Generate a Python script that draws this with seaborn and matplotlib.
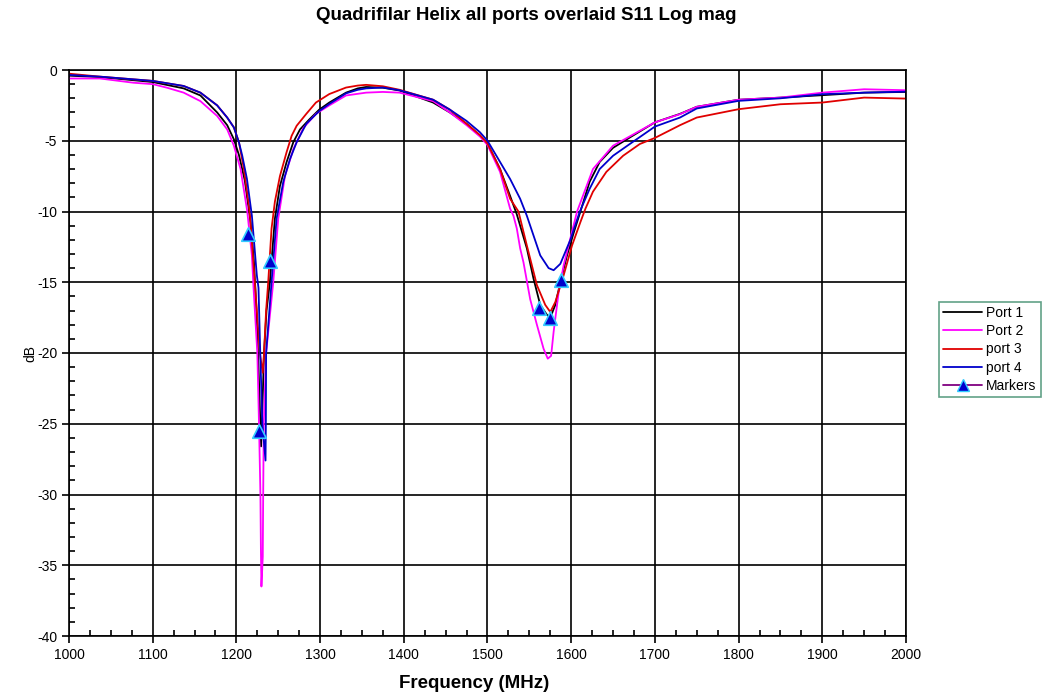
import numpy as np
import pandas as pd
import matplotlib
matplotlib.use("Agg")
import matplotlib.pyplot as plt
import seaborn as sns
from matplotlib.lines import Line2D
from matplotlib.ticker import MultipleLocator

sns.set_theme(style="white")
plt.rcParams['font.family'] = ['Liberation Sans', 'DejaVu Sans']
plt.rcParams['text.color'] = 'black'
plt.rcParams['axes.labelcolor'] = 'black'
plt.rcParams['xtick.color'] = 'black'
plt.rcParams['ytick.color'] = 'black'

# ---------------- data ----------------
port1_freq = [1000, 1037, 1100, 1137, 1157, 1177, 1189, 1197, 1203, 1210, 1214, 1217, 1221, 1224, 1227, 1229.5,
              1231, 1233, 1236, 1240, 1246, 1252, 1260, 1268, 1276, 1287, 1299, 1311, 1331, 1345, 1355, 1375,
              1395, 1435, 1455, 1475, 1491, 1500, 1515, 1527, 1535, 1547, 1555, 1563, 1571, 1575, 1581, 1587,
              1595, 1603, 1611, 1622, 1634, 1650, 1670, 1700, 1730, 1750, 1800, 1850, 1900, 1950, 2000]
port1_db = [-0.4, -0.5, -0.85, -1.3, -1.8, -3.0, -3.9, -4.9, -6.0, -7.8, -9.5, -10.8, -13.6, -17, -22, -26.6,
            -24, -20, -17, -15, -10.5, -8.2, -6.5, -5.1, -4.2, -3.5, -2.8, -2.3, -1.6, -1.3, -1.2, -1.25,
            -1.45, -2.3, -3.0, -3.8, -4.65, -5.2, -7.0, -8.9, -10.2, -12.6, -14.75, -16.6, -17.3, -17.5, -16.6, -15.0,
            -13.1, -11.5, -10.0, -7.9, -6.5, -5.5, -4.77, -3.7, -3.1, -2.6, -2.1, -1.95, -1.78, -1.6, -1.55]

port2_freq = [1000, 1037, 1077, 1100, 1117, 1137, 1157, 1177, 1189, 1197, 1205, 1213, 1218.5, 1220.5, 1225,
              1227, 1228.7, 1229.3, 1229.9, 1231.5, 1232, 1232.7, 1235.5, 1244, 1250, 1258, 1268, 1280, 1295,
              1311, 1331, 1355, 1375, 1395, 1435, 1455, 1475, 1491, 1500, 1515, 1527, 1531, 1535, 1539, 1543,
              1551, 1559, 1567, 1572, 1576, 1579, 1585, 1591, 1599, 1607, 1626, 1650, 1700, 1730, 1750, 1800,
              1850, 1900, 1950, 2000]
port2_db = [-0.6, -0.6, -0.9, -1.0, -1.25, -1.6, -2.2, -3.25, -4.2, -5.35, -7.0, -10.0, -13.1, -15.4, -20,
            -25, -30, -34, -36.5, -34.4, -30, -25, -20, -15, -10.5, -7.5, -5.6, -4.1, -3.1,
            -2.5, -1.8, -1.6, -1.55, -1.6, -2.2, -3.0, -3.9, -4.7, -5.3, -7.2, -9.8, -10.3, -11.2, -12.6, -13.6,
            -16.2, -18.0, -19.7, -20.4, -20.2, -18.5, -15.7, -13.8, -11.9, -10.0, -7.0, -5.35, -3.7, -3.12, -2.6, -2.1,
            -1.95, -1.6, -1.36, -1.43]

port3_freq = [1000, 1037, 1100, 1137, 1157, 1177, 1189, 1197, 1203, 1209, 1215, 1216.5, 1222, 1228, 1231.4,
              1233, 1235.5, 1238, 1242, 1246, 1252, 1260, 1266, 1272, 1283.5, 1295, 1311, 1331, 1345, 1355,
              1375, 1395, 1435, 1455, 1475, 1491, 1500, 1515, 1527, 1537, 1547, 1559, 1569, 1575, 1581, 1591,
              1601, 1611, 1617, 1626, 1642, 1662, 1682, 1700, 1730, 1750, 1800, 1850, 1900, 1950, 2000]
port3_db = [-0.26, -0.47, -0.77, -1.13, -1.6, -2.5, -3.36, -4.06, -5.1, -7.0, -9.6, -10.5, -15, -20, -21.4,
            -20, -17, -15, -11.2, -9.3, -7.5, -5.8, -4.65, -3.94, -3.1, -2.3, -1.7, -1.24, -1.1, -1.05,
            -1.15, -1.4, -2.1, -2.8, -3.8, -4.6, -5.2, -7.0, -9.1, -10.0, -12.4, -15.2, -16.6, -17.1, -16.4, -14.5,
            -12.4, -10.75, -9.8, -8.6, -7.2, -6.06, -5.23, -4.8, -3.9, -3.36, -2.77, -2.42, -2.3, -1.95, -2.02]

port4_freq = [1000, 1037, 1100, 1137, 1157, 1177, 1189, 1197, 1203, 1207, 1212.6, 1218.5, 1224.4, 1226.4, 1228.5,
              1231, 1234.8, 1235.2, 1235.5, 1242, 1248, 1256, 1264, 1272, 1283.5, 1299, 1311, 1331, 1345, 1355,
              1375, 1395, 1435, 1455, 1475, 1491, 1500, 1515, 1527, 1539, 1547, 1555, 1563, 1573, 1579, 1587,
              1599, 1610, 1622, 1634, 1650, 1670, 1700, 1730, 1750, 1800, 1850, 1900, 1950, 2000]
port4_db = [-0.35, -0.47, -0.77, -1.13, -1.6, -2.5, -3.36, -4.06, -5.1, -6.06, -7.7, -10.3, -14.5, -15.4, -20,
            -25, -27.6, -25, -20, -15, -10.5, -7.9, -6.3, -5.1, -3.8, -2.9, -2.4, -1.65, -1.4, -1.3,
            -1.24, -1.43, -2.1, -2.8, -3.6, -4.4, -5.0, -6.5, -7.7, -9.1, -10.3, -11.7, -13.1, -14.0, -14.15, -13.7,
            -12.0, -10.05, -8.4, -7.0, -6.06, -5.23, -4.0, -3.36, -2.72, -2.18, -2.0, -1.71, -1.6, -1.53]

marker_freq = [1214, 1227.4, 1240.5, 1562, 1574.7, 1588]
marker_db = [-11.6, -25.5, -13.5, -16.8, -17.55, -14.85]

port_names = ["Port 1", "Port 2", "port 3", "port 4"]
port_colors = ["#000000", "#ff00ff", "#e00000", "#0000cc"]

# ---------------- build long table ----------------
frames = []
for name, f, d in zip(port_names,
                      [port1_freq, port2_freq, port3_freq, port4_freq],
                      [port1_db, port2_db, port3_db, port4_db]):
    frames.append(pd.DataFrame({"freq": f, "dB": d, "port": name}))
df = pd.concat(frames, ignore_index=True)
mk = pd.DataFrame({"freq": marker_freq, "dB": marker_db})

fig = plt.figure(figsize=(10.47, 6.96), dpi=100)
ax = fig.add_axes([69 / 1047, 1 - 636 / 696, (906 - 69) / 1047, (636 - 70) / 696])

sns.lineplot(data=df, x="freq", y="dB", hue="port", palette=dict(zip(port_names, port_colors)),
             estimator=None, sort=False, units="port", legend=False, linewidth=1.3, ax=ax)
sns.scatterplot(data=mk, x="freq", y="dB", marker="^", s=95, color="#0000cc",
                edgecolor="#33ccff", linewidth=1.2, ax=ax, zorder=5, legend=False)

ax.set_xlim(1000, 2000)
ax.set_ylim(-40, 0)
ax.xaxis.set_major_locator(MultipleLocator(100))
ax.xaxis.set_minor_locator(MultipleLocator(25))
ax.yaxis.set_major_locator(MultipleLocator(5))
ax.yaxis.set_minor_locator(MultipleLocator(1))
ax.grid(True, which="major", color="black", linewidth=1.2)
ax.set_axisbelow(True)
for s in ax.spines.values():
    s.set_color("black")
    s.set_linewidth(1.2)
ax.tick_params(axis="both", which="major", direction="out", length=5, width=1.2, colors="black",
               labelsize=10, bottom=True, left=True)
ax.tick_params(axis="both", which="minor", direction="in", length=4, width=1.2, colors="black",
               bottom=True, left=True)
ax.set_xticks(range(1000, 2001, 100))
ax.set_yticks(range(-40, 1, 5))
ax.set_yticklabels([str(v) for v in range(-40, 1, 5)])

ax.set_xlabel("")
ax.set_ylabel("")
fig.text(30 / 1047, 1 - 353 / 696, "dB", ha="center", va="center", rotation=90, fontsize=10)
fig.text(474 / 1047, 1 - 683 / 696, "Frequency (MHz)", ha="center", va="center",
         fontsize=13.5, fontweight="bold")

fig.text(526 / 1047, 1 - 16 / 696, "Quadrifilar Helix all ports overlaid S11 Log mag",
         ha="center", va="center", fontsize=13.5, fontweight="bold")

handles = [Line2D([0], [0], color=c, lw=1.3) for c in port_colors]
handles.append(Line2D([0], [0], color="#800080", lw=1.3, marker="^", markersize=9,
                      markerfacecolor="#0000cc", markeredgecolor="#33ccff"))
leg = fig.legend(handles, port_names + ["Markers"], loc="upper left",
                 bbox_to_anchor=(939 / 1047, 1 - 302 / 696), fontsize=10, frameon=True,
                 fancybox=False, handlelength=2.8, handletextpad=0.3, borderpad=0.3,
                 labelspacing=0.3, borderaxespad=0)
leg.get_frame().set_edgecolor("#3a8a6a")
leg.get_frame().set_linewidth(1.2)

fig.savefig("out.png", dpi=100)
